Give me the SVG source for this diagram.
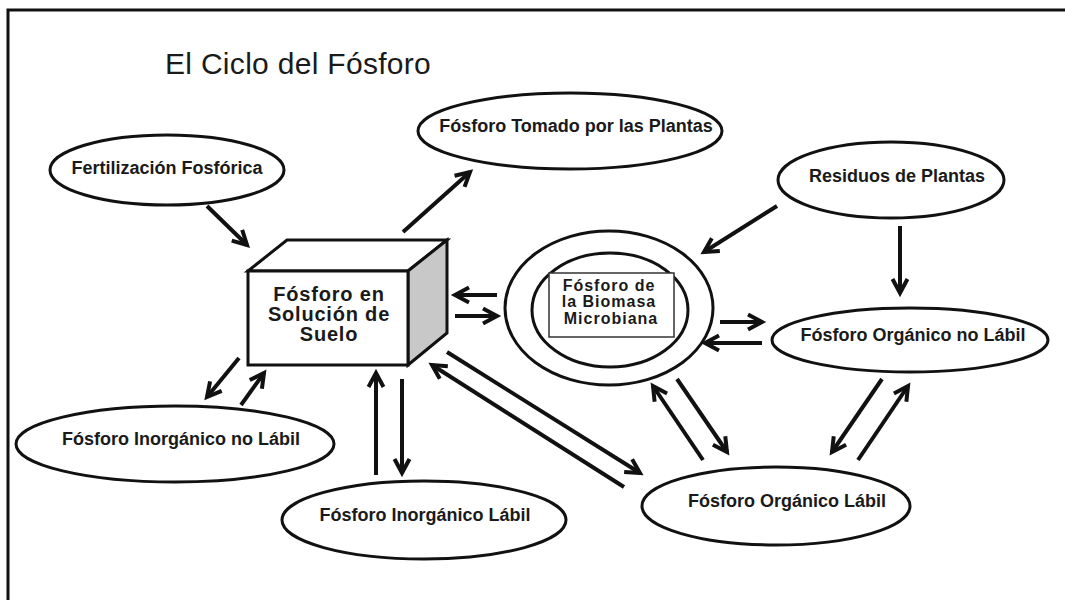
<svg xmlns="http://www.w3.org/2000/svg" width="1065" height="600" viewBox="0 0 1065 600">
<style>
  .node ellipse{fill:#fff;stroke:#111;stroke-width:3}
  .lbl{font-family:"Liberation Sans",Arial,sans-serif;font-weight:bold;font-size:18px;fill:#1a1a1a;text-anchor:middle}
  .title{font-family:"Liberation Sans",Arial,sans-serif;font-size:30px;fill:#1a1a1a;letter-spacing:0.3px}
  .cube{fill:#fff;stroke:#111;stroke-width:3;stroke-linejoin:miter}
  .conn line{stroke:#111;stroke-width:4;marker-end:url(#chev)}
</style>
<defs>
  <marker id="chev" markerUnits="userSpaceOnUse" viewBox="-20 -10 24 20" markerWidth="24" markerHeight="20" refX="0" refY="0" orient="auto" overflow="visible">
    <path d="M -14 -7.5 L 0 0 L -14 7.5" fill="none" stroke="#111" stroke-width="4" stroke-linejoin="miter"/>
  </marker>
</defs>
<rect width="1065" height="600" fill="#fff"/>
<path d="M8 600 V10 H1065" fill="none" stroke="#111" stroke-width="3"/>
<text class="title" x="165" y="74">El Ciclo del Fósforo</text>

<g id="fertilizacion" class="node">
  <ellipse cx="167" cy="170" rx="117" ry="35"/>
  <text class="lbl" x="167" y="174">Fertilización Fosfórica</text>
</g>
<g id="tomado" class="node">
  <ellipse cx="570" cy="131" rx="152" ry="38"/>
  <text class="lbl" x="576" y="132">Fósforo Tomado por las Plantas</text>
</g>
<g id="residuos" class="node">
  <ellipse cx="891" cy="180" rx="113" ry="38"/>
  <text class="lbl" x="897" y="182">Residuos de Plantas</text>
</g>
<g id="organico-no-labil" class="node">
  <ellipse cx="910" cy="340" rx="138" ry="32"/>
  <text class="lbl" x="913" y="341">Fósforo Orgánico no Lábil</text>
</g>
<g id="organico-labil" class="node">
  <ellipse cx="776" cy="506" rx="134" ry="39"/>
  <text class="lbl" x="787" y="507">Fósforo Orgánico Lábil</text>
</g>
<g id="inorganico-no-labil" class="node">
  <ellipse cx="175" cy="444" rx="159" ry="38"/>
  <text class="lbl" x="181" y="445">Fósforo Inorgánico no Lábil</text>
</g>
<g id="inorganico-labil" class="node">
  <ellipse cx="424" cy="520" rx="142" ry="39"/>
  <text class="lbl" x="425" y="521">Fósforo Inorgánico Lábil</text>
</g>
<g id="solucion-suelo">
  <polygon class="cube" points="248,271 287,240 447,240 408,271"/>
  <polygon class="cube" points="408,271 447,240 447,333 408,365" style="fill:#c8c8c8"/>
  <rect class="cube" x="248" y="271" width="160" height="94"/>
  <text class="lbl" style="font-size:20px;letter-spacing:0.8px" x="329" y="301">Fósforo en</text>
  <text class="lbl" style="font-size:20px;letter-spacing:0.8px" x="329" y="321">Solución de</text>
  <text class="lbl" style="font-size:20px;letter-spacing:0.8px" x="329" y="341">Suelo</text>
</g>
<g id="biomasa" class="node">
  <ellipse cx="609" cy="308" rx="104" ry="77"/>
  <ellipse cx="610" cy="310" rx="78" ry="57"/>
  <rect x="549" y="273" width="125" height="64" fill="#fff" stroke="#333" stroke-width="1.5"/>
  <text class="lbl" style="font-size:16px;letter-spacing:1px" x="609" y="291">Fósforo de</text>
  <text class="lbl" style="font-size:16px;letter-spacing:1px" x="609" y="307">la Biomasa</text>
  <text class="lbl" style="font-size:16px;letter-spacing:1px" x="611" y="324">Microbiana</text>
</g>

<g id="connectors" class="conn">
  <line x1="207" y1="206" x2="247" y2="245"/>
  <line x1="403" y1="232" x2="470" y2="172"/>
  <line x1="497" y1="295" x2="455" y2="295"/>
  <line x1="455" y1="316" x2="497" y2="316"/>
  <line x1="777" y1="206" x2="704" y2="252"/>
  <line x1="900" y1="226" x2="900" y2="293"/>
  <line x1="720" y1="322" x2="762" y2="322"/>
  <line x1="762" y1="343" x2="705" y2="343"/>
  <line x1="703" y1="460" x2="653" y2="386"/>
  <line x1="677" y1="379" x2="727" y2="452"/>
  <line x1="882" y1="379" x2="832" y2="452"/>
  <line x1="858" y1="460" x2="908" y2="386"/>
  <line x1="447" y1="352" x2="640" y2="473"/>
  <line x1="624" y1="487" x2="432" y2="365"/>
  <line x1="376" y1="475" x2="376" y2="373"/>
  <line x1="402" y1="379" x2="402" y2="473"/>
  <line x1="239" y1="358" x2="207" y2="397"/>
  <line x1="241" y1="405" x2="264" y2="373"/>
</g>
</svg>
